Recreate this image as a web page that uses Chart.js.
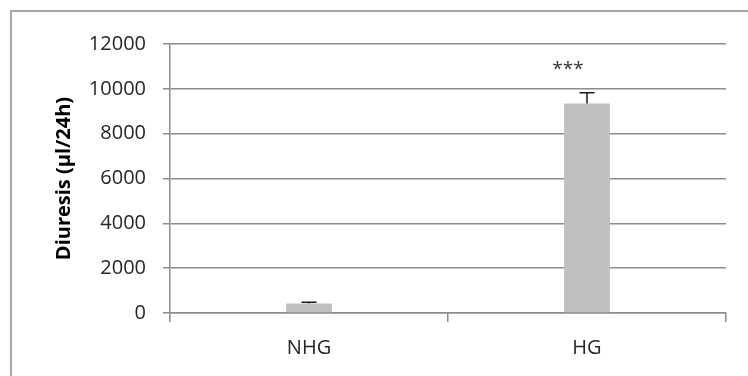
<!DOCTYPE html>
<html>
<head>
<meta charset="utf-8">
<script src="https://cdn.jsdelivr.net/npm/chart.js@4/dist/chart.umd.min.js"></script>
<style>
  html, body { margin: 0; padding: 0; background: #ffffff; }
  #wrap { width: 748px; height: 376px; position: relative; }
</style>
</head>
<body>
<div id="wrap"><canvas id="c" width="748" height="376"></canvas></div>
<script>
// Daily urine output per group
const groups = ['NHG', 'HG'];
const diuresis = [420, 9350];
const diuresisErr = [60, 480];
const significance = ['', '***'];
const yTicks = [0, 2000, 4000, 6000, 8000, 10000, 12000];

const FONT = "'Open Sans', 'Liberation Sans', sans-serif";
const GRID = '#8c8c8c';

// Frame around the figure
const framePlugin = {
  id: 'frame',
  beforeDraw(chart) {
    const ctx = chart.ctx;
    ctx.save();
    ctx.fillStyle = '#ffffff';
    ctx.fillRect(0, 0, chart.width, chart.height);
    ctx.strokeStyle = '#a6a6a6';
    ctx.lineWidth = 2;
    ctx.strokeRect(11, 11, chart.width + 20, chart.height + 20);
    ctx.restore();
  }
};

// Upper error whiskers and significance marks
const errorPlugin = {
  id: 'errorBars',
  afterDatasetsDraw(chart) {
    const ctx = chart.ctx;
    const y = chart.scales.y;
    const meta = chart.getDatasetMeta(0);
    ctx.save();
    meta.data.forEach((bar, i) => {
      const top = y.getPixelForValue(diuresis[i]);
      const tip = y.getPixelForValue(diuresis[i] + diuresisErr[i]);
      ctx.strokeStyle = '#1a1a1a';
      ctx.lineWidth = 1.5;
      ctx.beginPath();
      ctx.moveTo(bar.x, top);
      ctx.lineTo(bar.x, tip);
      ctx.moveTo(bar.x - 7.5, tip);
      ctx.lineTo(bar.x + 7.5, tip);
      ctx.stroke();
      if (significance[i]) {
        ctx.fillStyle = '#333333';
        ctx.font = '19px ' + FONT;
        ctx.textAlign = 'center';
        ctx.textBaseline = 'middle';
        ctx.fillText(significance[i], bar.x - 19, y.getPixelForValue(11000) + 3);
      }
    });
    ctx.restore();
  }
};

new Chart(document.getElementById('c'), {
  type: 'bar',
  data: {
    labels: groups,
    datasets: [{
      data: diuresis,
      backgroundColor: '#c0c0c0',
      borderWidth: 0,
      barPercentage: 0.66,
      categoryPercentage: 0.25
    }]
  },
  options: {
    responsive: false,
    animation: false,
    devicePixelRatio: 1,
    layout: { padding: { left: 0, right: 22, top: 44, bottom: 0 } },
    plugins: { legend: { display: false }, tooltip: { enabled: false } },
    scales: {
      x: {
        grid: {
          display: true,
          drawOnChartArea: false,
          drawTicks: true,
          tickLength: 9,
          color: GRID,
          lineWidth: 1.5,
          offset: true
        },
        border: { display: true, color: GRID, width: 1.5 },
        ticks: { color: '#262626', font: { family: FONT, size: 20 }, padding: 14 },
        afterFit(scale) { scale.height = 63; }
      },
      y: {
        min: 0,
        max: 12000,
        afterBuildTicks(scale) { scale.ticks = yTicks.map(v => ({ value: v })); },
        grid: {
          color: GRID,
          lineWidth: 1.5,
          drawTicks: true,
          tickLength: 7
        },
        border: { display: true, color: GRID, width: 1.5 },
        ticks: {
          color: '#262626',
          font: { family: FONT, size: 20 },
          padding: 17,
          callback: v => String(v)
        },
        title: {
          display: true,
          text: 'Diuresis (µl/24h)',
          color: '#000000',
          font: { family: FONT, size: 20, weight: 'bold' },
          padding: { top: 52, bottom: 8 }
        },
        afterFit(scale) { scale.width = 170; }
      }
    }
  },
  plugins: [framePlugin, errorPlugin]
});
</script>
</body>
</html>
